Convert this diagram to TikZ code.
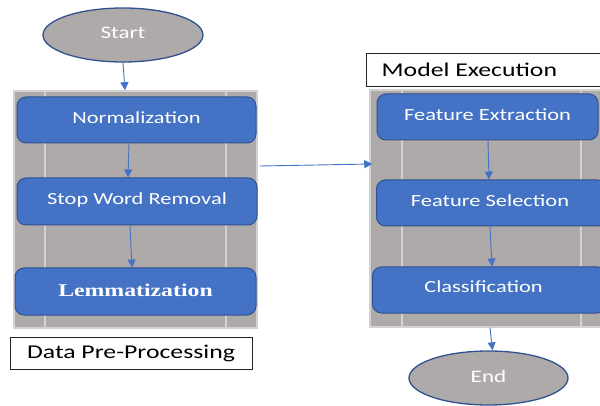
\documentclass[tikz,border=0pt]{standalone}
\usepackage{fontspec}
\setmainfont{Carlito}
\newfontfamily\lemfont{Liberation Serif}
\usetikzlibrary{shapes.geometric,arrows.meta}
\definecolor{boxblue}{HTML}{4472C4}
\definecolor{boxedge}{HTML}{2F528F}
\definecolor{panelgray}{HTML}{AEAAAA}
\definecolor{panelline}{HTML}{D3D1D1}
\newcommand{\wide}[1]{\scalebox{1.32}[1]{#1}}
\tikzset{
  panel/.style={draw=panelline, line width=1.5pt, fill=panelgray, rectangle, inner sep=0pt},
  stepbox/.style={draw=boxedge, line width=1pt, fill=boxblue, rounded corners=9pt,
    inner sep=0pt, text=white, font=\fontsize{17}{20}\selectfont},
  termnode/.style={ellipse, draw=boxedge, line width=1.3pt, fill=panelgray, inner sep=0pt,
    text=white, font=\fontsize{17.5}{20}\selectfont},
  labelbox/.style={draw=black!85, line width=0.8pt, fill=white, rectangle, inner sep=0pt,
    text=black, font=\fontsize{19.5}{22}\selectfont},
  arr/.style={draw=boxblue, line width=0.9pt, -{Triangle[width=8pt,length=8pt]}},
}
\begin{document}
\begin{tikzpicture}[x=1pt,y=-1pt]
\useasboundingbox (0,0) rectangle (600,406);
\clip (0,0) rectangle (600,406);
% panels
\node[panel, minimum width=243pt, minimum height=237pt] (lpanel) at (135.5,209.5) {};
\node[panel, minimum width=240pt, minimum height=237pt] (rpanel) at (490,208.5) {};
\foreach \xx in {45,226} \draw[panelline, line width=2.5pt] (\xx,92) -- (\xx,327);
\foreach \xx in {402,581} \draw[panelline, line width=2.5pt] (\xx,91) -- (\xx,326);
% terminals
\node[termnode, minimum width=160pt, minimum height=54pt] (start) at (123,35) {\raisebox{5pt}{\wide{Start}}};
\node[termnode, minimum width=159pt, minimum height=54pt] (end) at (488.5,378) {\raisebox{4pt}{\wide{End}}};
% left boxes
\node[stepbox, minimum width=239pt, minimum height=46pt] (norm) at (136.5,120) {\raisebox{5pt}{\wide{Normalization}}};
\node[stepbox, minimum width=240pt, minimum height=47pt] (stop) at (137,201.5) {\raisebox{5pt}{\wide{Stop Word Removal}}};
\node[stepbox, minimum width=241pt, minimum height=47pt, font={\lemfont\bfseries\fontsize{18}{21}\selectfont}] (lemma) at (135.5,291.5) {\raisebox{3pt}{\wide{Lemmatization}}};
\node[labelbox, minimum width=242pt, minimum height=32pt] (dpp) at (131,353) {\wide{Data Pre-Processing}};
% right boxes
\node[labelbox, minimum width=240pt, minimum height=33pt, anchor=west] (me) at (366,69.5) {\hspace*{-34pt}\wide{Model Execution}};
\node[stepbox, minimum width=221pt, minimum height=46pt] (fe) at (487.5,117) {\raisebox{5pt}{\wide{Feature Extraction}}};
\node[stepbox, minimum width=230pt, minimum height=46pt, anchor=west] (fs) at (376,203) {\hspace*{-3pt}\raisebox{5pt}{\wide{Feature Selection}}};
\node[stepbox, minimum width=234pt, minimum height=46pt, anchor=west] (cls) at (372,290) {\hspace*{-12pt}\raisebox{6pt}{\wide{Classification}}};
% connectors
\draw[arr] (start.south) -- ([xshift=2pt]start.south |- lpanel.north);
\draw[arr] ([xshift=-7.5pt]norm.south) -- ([xshift=-9pt]stop.north);
\draw[arr] ([xshift=-7pt]stop.south) -- ([xshift=-3.5pt]lemma.north);
\draw[arr] ([xshift=2pt,yshift=43.5pt]lpanel.east) -- ([xshift=3pt,yshift=44.5pt]rpanel.west);
\draw[arr] ([xshift=0.5pt]fe.south) -- ([xshift=1.5pt]fe.south |- fs.north);
\draw[arr] ([xshift=2.5pt]fe.south |- fs.south) -- ([xshift=4.5pt]fe.south |- cls.north);
\draw[arr] ([xshift=2.5pt]fe.south |- rpanel.south) -- ([xshift=4pt]end.north);
\end{tikzpicture}
\end{document}
